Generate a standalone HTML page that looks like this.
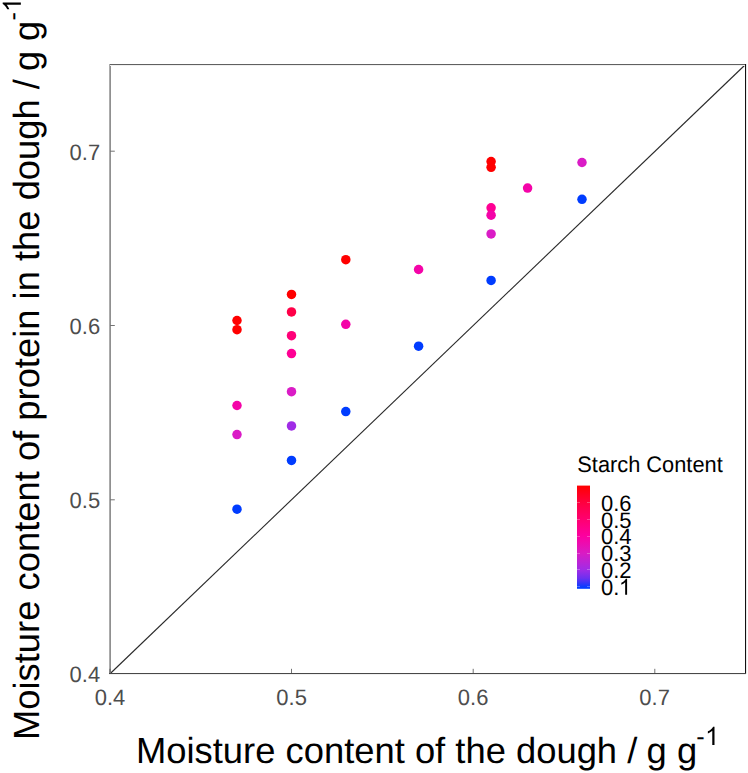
<!DOCTYPE html>
<html><head><meta charset="utf-8">
<style>
html,body{margin:0;padding:0;background:#fff;}
body{width:748px;height:773px;overflow:hidden;font-family:"Liberation Sans",sans-serif;}
svg{display:block;}
text{font-family:"Liberation Sans",sans-serif;}
</style></head><body>
<svg width="748" height="773" viewBox="0 0 748 773" text-rendering="geometricPrecision">
<defs>
<linearGradient id="cb" x1="0" y1="1" x2="0" y2="0">
<stop offset="0" stop-color="#0040ff"/>
<stop offset="0.019" stop-color="#0c3cff"/>
<stop offset="0.102" stop-color="#6c30f0"/>
<stop offset="0.184" stop-color="#a02ce6"/>
<stop offset="0.342" stop-color="#d81cc4"/>
<stop offset="0.511" stop-color="#fc00a0"/>
<stop offset="0.672" stop-color="#ff0070"/>
<stop offset="0.833" stop-color="#ff0040"/>
<stop offset="1" stop-color="#ff0000"/>
</linearGradient>
</defs>
<!-- diagonal -->
<line x1="110.3" y1="673.5" x2="745.5" y2="64.5" stroke="#2a2a2a" stroke-width="1.12"/>
<!-- panel border -->
<g shape-rendering="crispEdges">
<rect x="109" y="64" width="1" height="610" fill="#ababab"/>
<rect x="110" y="64" width="1" height="610" fill="#909090"/>
<rect x="110" y="64" width="636" height="1" fill="#606060"/>
<rect x="110" y="65" width="635" height="1" fill="#f0f0f0"/>
<rect x="745" y="64" width="1" height="610" fill="#111"/>
<rect x="746" y="64" width="1" height="610" fill="#e8e8e8"/>
<rect x="109" y="673" width="637" height="1" fill="#484848"/>
<rect x="109" y="674" width="637" height="1" fill="#f0f0f0"/>
</g>
<g stroke="#444" stroke-width="0.75">
<!-- x ticks -->
<line x1="110" y1="668.8" x2="110" y2="673"/>
<line x1="291.5" y1="668.8" x2="291.5" y2="673"/>
<line x1="473.2" y1="668.8" x2="473.2" y2="673"/>
<line x1="654.8" y1="668.8" x2="654.8" y2="673"/>
<!-- y ticks -->
<line x1="110.5" y1="151.2" x2="114.8" y2="151.2"/>
<line x1="110.5" y1="325.5" x2="114.8" y2="325.5"/>
<line x1="110.5" y1="499.8" x2="114.8" y2="499.8"/>
</g>
<!-- tick labels -->
<g font-size="22" fill="#4d4d4d" text-anchor="middle">
<text transform="translate(110,705.1) scale(1,1.015)">0.4</text>
<text transform="translate(291.6,705.1) scale(1,1.015)">0.5</text>
<text transform="translate(473.1,705.1) scale(1,1.015)">0.6</text>
<text transform="translate(654.6,705.1) scale(1,1.015)">0.7</text>
</g>
<g font-size="22" fill="#4d4d4d" text-anchor="end">
<text transform="translate(100.2,159.5) scale(1,1.015)">0.7</text>
<text transform="translate(100.2,334.0) scale(1,1.015)">0.6</text>
<text transform="translate(100.2,508.2) scale(1,1.015)">0.5</text>
<text transform="translate(100.2,682.3) scale(1,1.015)">0.4</text>
</g>
<!-- points -->
<g>
<circle cx="237" cy="320.5" r="4.75" fill="#ff0000"/>
<circle cx="237" cy="329.7" r="4.75" fill="#ff0000"/>
<circle cx="237" cy="405.5" r="4.75" fill="#f404a8"/>
<circle cx="237" cy="434.6" r="4.75" fill="#da1cc6"/>
<circle cx="237" cy="509.2" r="4.75" fill="#003cff"/>
<circle cx="291.5" cy="294.4" r="4.75" fill="#ff0000"/>
<circle cx="291.5" cy="311.9" r="4.75" fill="#ff0048"/>
<circle cx="291.5" cy="335.7" r="4.75" fill="#ff0078"/>
<circle cx="291.5" cy="353.6" r="4.75" fill="#ff0094"/>
<circle cx="291.5" cy="391.7" r="4.75" fill="#da1cc6"/>
<circle cx="291.5" cy="425.9" r="4.75" fill="#a02ce6"/>
<circle cx="291.5" cy="460.4" r="4.75" fill="#003cff"/>
<circle cx="345.8" cy="259.7" r="4.75" fill="#ff0000"/>
<circle cx="345.8" cy="324.3" r="4.75" fill="#f404a8"/>
<circle cx="345.8" cy="411.6" r="4.75" fill="#003cff"/>
<circle cx="418.6" cy="269.5" r="4.75" fill="#f404a8"/>
<circle cx="418.6" cy="346.2" r="4.75" fill="#003cff"/>
<circle cx="491.1" cy="161.5" r="4.75" fill="#ff0000"/>
<circle cx="491.1" cy="167.3" r="4.75" fill="#ff0000"/>
<circle cx="491.1" cy="207.8" r="4.75" fill="#ff0094"/>
<circle cx="491.1" cy="215.2" r="4.75" fill="#f404a8"/>
<circle cx="491.1" cy="233.9" r="4.75" fill="#da1cc6"/>
<circle cx="491.1" cy="280.4" r="4.75" fill="#003cff"/>
<circle cx="527.6" cy="188.1" r="4.75" fill="#f404a8"/>
<circle cx="582" cy="162.5" r="4.75" fill="#da1cc6"/>
<circle cx="582" cy="199.3" r="4.75" fill="#003cff"/>
</g>
<!-- legend -->
<text transform="translate(577.3,472.4) scale(1,1.03)" font-size="21.8" fill="#000">Starch Content</text>
<rect x="577" y="485.6" width="13" height="103.2" fill="url(#cb)"/>
<g fill="#fff" fill-opacity="0.28" shape-rendering="crispEdges">
<rect x="577" y="502" width="3" height="1"/><rect x="587" y="502" width="3" height="1"/>
<rect x="577" y="519" width="3" height="1"/><rect x="587" y="519" width="3" height="1"/>
<rect x="577" y="536" width="3" height="1"/><rect x="587" y="536" width="3" height="1"/>
<rect x="577" y="553" width="3" height="1"/><rect x="587" y="553" width="3" height="1"/>
<rect x="577" y="569" width="3" height="1"/><rect x="587" y="569" width="3" height="1"/>
<rect x="577" y="586" width="3" height="1"/><rect x="587" y="586" width="3" height="1"/>
</g>
<g font-size="22" fill="#000">
<text transform="translate(601,510.8) scale(1,1.015)">0.6</text>
<text transform="translate(601,527.6) scale(1,1.015)">0.5</text>
<text transform="translate(601,544.4) scale(1,1.015)">0.4</text>
<text transform="translate(601,561.2) scale(1,1.015)">0.3</text>
<text transform="translate(601,578.0) scale(1,1.015)">0.2</text>
<text transform="translate(601,594.8) scale(1,1.015)">0.</text>
<path transform="translate(618.9,594.8) scale(0.010742,-0.010903)" d="M763 0L583 0L583 1147C540 1106 483 1064 413 1023C344 982 281 951 226 930L226 1104C327 1151 415 1209 490 1276C566 1343 619 1408 651 1469L763 1469Z"/>
</g>
<!-- axis titles -->
<text x="136" y="763" font-size="36.37" fill="#000">Moisture content of the dough /<tspan dx="-0.8"> g</tspan> g<tspan font-size="25.3" dx="-0.9" dy="-18">-</tspan></text>
<path transform="translate(705.07,744.9) scale(0.012354,-0.012354)" d="M763 0L583 0L583 1147C540 1106 483 1064 413 1023C344 982 281 951 226 930L226 1104C327 1151 415 1209 490 1276C566 1343 619 1408 651 1469L763 1469Z" fill="#000"/>
<g transform="translate(39,740) rotate(-90)">
<text x="0" y="0" font-size="36.37" fill="#000">Moisture content of protein in the dough /<tspan dx="-2.1"> g</tspan><tspan dx="-0.4"> g</tspan><tspan font-size="25.3" dx="0.5" dy="-18">-</tspan></text>
<path transform="translate(728.0,-18.15) scale(0.012354,-0.012354)" d="M763 0L583 0L583 1147C540 1106 483 1064 413 1023C344 982 281 951 226 930L226 1104C327 1151 415 1209 490 1276C566 1343 619 1408 651 1469L763 1469Z" fill="#000"/>
</g>
</svg>
</body></html>
